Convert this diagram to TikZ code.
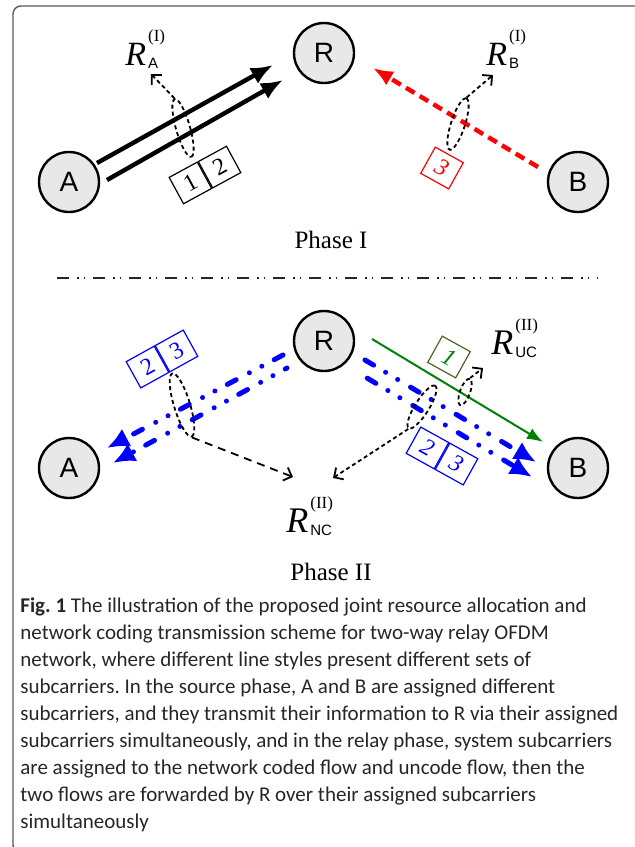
\documentclass[tikz,border=0pt]{standalone}
\usepackage{fontspec}
\setmainfont{Liberation Serif}
\setsansfont{Liberation Sans}
\newfontfamily\capfont{Carlito}
\usetikzlibrary{arrows.meta, shapes.geometric}
\newcommand{\ratelabel}[2]{\textit{R}\kern1pt\rlap{\raisebox{12pt}{\fontsize{8.5}{9}\selectfont(#1)}}\raisebox{-1.5pt}{\sffamily\fontsize{7.5}{8}\selectfont #2}}

\begin{document}
\begin{tikzpicture}[
    x=0.5pt, y=-0.5pt,
    station/.style={circle, draw, line width=1.2pt, fill=gray!18, minimum size=30pt, inner sep=0pt, font=\sffamily\fontsize{14}{14}\selectfont},
    cell/.style={draw, line width=0.6pt, minimum width=16pt, minimum height=15pt, inner sep=0pt, font=\fontsize{12}{12}\selectfont},
    ring/.style={ellipse, draw, line width=0.9pt, dash pattern=on 2pt off 1.5pt, inner sep=0pt},
    rate/.style={inner sep=0pt, anchor=base west, font=\fontsize{17}{17}\selectfont},
    phase_title/.style={inner sep=0pt, font=\fontsize{12.5}{13}\selectfont},
    pointer/.style={line width=0.9pt, dash pattern=on 2pt off 1.5pt, -{Straight Barb[length=3.5pt,width=7pt]}},
    black_flow/.style={line width=2.2pt, -{Latex[length=11pt,width=9pt]}},
    red_flow/.style={line width=2.2pt, red, dash pattern=on 5pt off 3pt, -{Latex[length=10pt,width=8pt]}},
    blue_flow/.style={line width=2.5pt, blue, line cap=round, dash pattern=on 5pt off 7pt on 0pt off 7pt on 0pt off 7.5pt, -{Latex[length=11pt,width=10pt]}},
    green_flow/.style={line width=1pt, green!50!black, -{Latex[length=8pt,width=6pt]}}
]
\useasboundingbox (0,0) rectangle (634,847);
\draw[gray!70!black, line width=0.7pt, rounded corners=4pt] (640,6) -- (13,6) -- (13,853) -- (40,853);

% phase I
\node (node_a_one) [station] at (69,182) {A};
\node (node_r_one) [station] at (324,53) {R};
\node (node_b_one) [station] at (578,182) {B};

\coordinate (flow_a_up_start) at (97,163);
\coordinate (flow_a_up_end) at (273,65);
\coordinate (flow_a_low_start) at (107,180);
\coordinate (flow_a_low_end) at (283,80);
\coordinate (flow_b_start) at (538,167);
\coordinate (flow_b_end) at (373,68);
\draw[black_flow] (flow_a_up_start) -- (flow_a_up_end);
\draw[black_flow] (flow_a_low_start) -- (flow_a_low_end);
\draw[red_flow] (flow_b_start) -- (flow_b_end);

\node (cell_a_one) [cell, rotate=28.5, anchor=east] at (205,175) {1};
\node (cell_a_two) [cell, rotate=28.5, anchor=west] at (cell_a_one.east) {2};
\node (cell_b_three) [cell, red, rotate=-29, font=\fontsize{12}{12}\selectfont\itshape] at (442,168) {3};

\node (ring_a) [ring, minimum width=30pt, minimum height=7pt, rotate=-74] at (183,128) {};
\node (ring_b) [ring, minimum width=27pt, minimum height=7pt, rotate=72] at (458,124) {};

\node (rate_a) [rate] at (125,65) {\ratelabel{I}{A}};
\node (rate_b) [rate] at (486,65) {\ratelabel{I}{B}};
\coordinate (tip_rate_a) at (151,74);
\coordinate (tip_rate_b) at (493,75);
\draw[pointer] (ring_a.west) -- (tip_rate_a);
\draw[pointer] (ring_b.east) -- (tip_rate_b);

\node (title_one) [phase_title] at (331,240) {Phase I};

\draw[gray!30!black, line width=0.75pt, dash pattern=on 6pt off 4pt on 0.75pt off 2.5pt on 0.75pt off 4pt] (57,278) -- (598,278);

% phase II
\node (node_a_two) [station] at (69,468) {A};
\node (node_r_two) [station] at (324,341) {R};
\node (node_b_two) [station] at (578,468) {B};

\coordinate (bc_left_up_start) at (283,355);
\coordinate (bc_left_up_end) at (107,448);
\coordinate (bc_left_low_start) at (287,368);
\coordinate (bc_left_low_end) at (113,463);
\coordinate (bc_right_up_start) at (365,360);
\coordinate (bc_right_up_end) at (536,462);
\coordinate (bc_right_low_start) at (357,372);
\coordinate (bc_right_low_end) at (532,477);
\coordinate (uc_start) at (372,339);
\coordinate (uc_end) at (543,442);
\draw[blue_flow] (bc_left_up_start) -- (bc_left_up_end);
\draw[blue_flow, dash phase=4pt] (bc_left_low_start) -- (bc_left_low_end);
\draw[blue_flow] (bc_right_up_start) -- (bc_right_up_end);
\draw[blue_flow, dash phase=-6pt] (bc_right_low_start) -- (bc_right_low_end);
\draw[green_flow] (uc_start) -- (uc_end);

\node (cell_bc_two) [cell, blue, rotate=29, anchor=east] at (162,359) {2};
\node (cell_bc_three) [cell, blue, rotate=29, anchor=west] at (cell_bc_two.east) {3};
\node (cell_br_two) [cell, blue, rotate=-29, anchor=east, font=\fontsize{12}{12}\selectfont\itshape] at (442,456) {2};
\node (cell_br_three) [cell, blue, rotate=-29, anchor=west, font=\fontsize{12}{12}\selectfont\itshape] at (cell_br_two.east) {3};
\node (cell_uc_one) [cell, draw={rgb,255:red,79;green,98;blue,40}, text=green!50!black, rotate=-29, font=\fontsize{12}{12}\selectfont\itshape] at (449,357) {1};

\node (ring_nc_left) [ring, minimum width=33pt, minimum height=8pt, rotate=-73] at (182,405) {};
\node (ring_nc_right) [ring, minimum width=25pt, minimum height=7pt, rotate=58] at (422,407) {};
\node (ring_uc) [ring, minimum width=14pt, minimum height=5pt, rotate=70] at (465,392) {};

\node (rate_nc) [rate, font=\fontsize{18}{18}\selectfont] at (286,532) {\ratelabel{II}{NC}};
\node (rate_uc) [rate, font=\fontsize{18}{18}\selectfont] at (491,354) {\ratelabel{II}{UC}};
\coordinate (tip_nc_left) at (293,477);
\coordinate (tip_nc_right) at (333,478);
\coordinate (tip_uc) at (483,368);
\draw[pointer, dash pattern=on 4pt off 3pt] (ring_nc_left.east) -- (tip_nc_left);
\draw[pointer] (ring_nc_right.west) -- (tip_nc_right);
\draw[pointer] (ring_uc.east) -- (tip_uc);

\node (title_two) [phase_title] at (331,572) {Phase II};

\node (fig_caption) [anchor=north west, align=left, inner sep=0pt, text=black!85, font=\capfont\fontsize{10.5}{13.5}\selectfont\frenchspacing] at (20,597) {\textbf{Fig. 1} The illustration of the proposed joint resource allocation and\\
network coding transmission scheme for two-way relay OFDM\\
network, where different line styles present different sets of\\
subcarriers. In the source phase, A and B are assigned different\\
subcarriers, and they transmit their information to R via their assigned\\
subcarriers simultaneously, and in the relay phase, system subcarriers\\
are assigned to the network coded flow and uncode flow, then the\\
two flows are forwarded by R over their assigned subcarriers\\
simultaneously};
\end{tikzpicture}
\end{document}
